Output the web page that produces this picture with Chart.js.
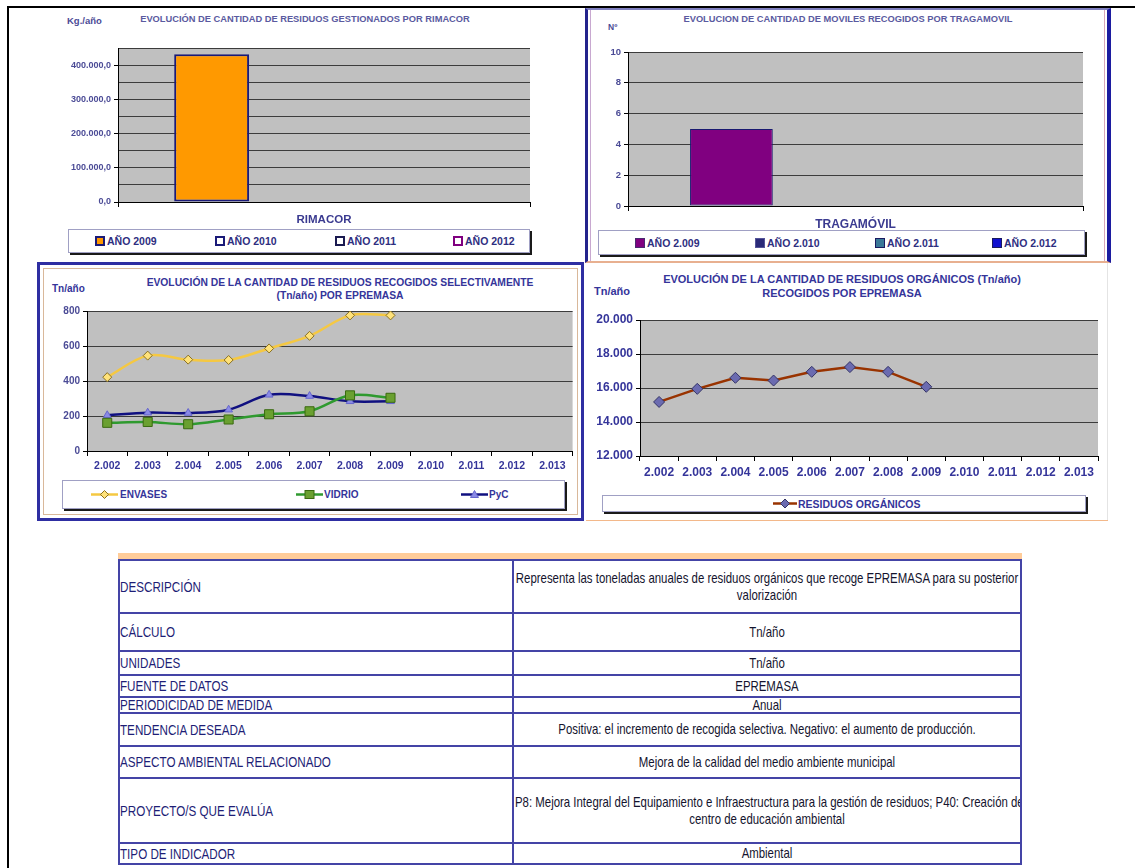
<!DOCTYPE html>
<html lang="es"><head><meta charset="utf-8"><title>Indicadores de residuos</title>
<script src="https://cdn.jsdelivr.net/npm/chart.js@4.4.1/dist/chart.umd.min.js"></script>
<style>
html,body{margin:0;padding:0;}
body{width:1135px;height:868px;position:relative;overflow:hidden;background:#fff;font-family:"Liberation Sans",Arial,Helvetica,sans-serif;}
.a{position:absolute;}
.t{position:absolute;font-weight:bold;white-space:nowrap;}
canvas{position:absolute;}
.leg{position:absolute;background:#fff;border:1px solid #a0a0c4;box-shadow:2px 2px 0 #1a1a1a;box-sizing:border-box;}
.li{position:absolute;top:0;height:100%;display:flex;align-items:center;font-weight:bold;white-space:nowrap;}
.sq{display:inline-block;width:10px;height:10px;box-sizing:border-box;border:2px solid #1a1a80;margin-right:2px;}
.cell{position:absolute;box-sizing:border-box;border:2px solid #4444a6;display:flex;align-items:center;overflow:hidden;font-size:14.5px;}
.lc{color:#1e1e76;}
.lc span{display:inline-block;white-space:nowrap;transform-origin:left center;margin-left:0px;}
.rc{color:#14142e;}
.lines{width:100%;}
.ln{position:relative;height:17px;}
.ln span{position:absolute;top:0;white-space:nowrap;line-height:17px;}
.ln span.c{left:50%;}
.ln span.l{left:1px;transform-origin:left center;}
</style></head><body>

<!-- page frame -->
<div class="a" style="left:7px;top:6px;width:1128px;height:2px;background:#000"></div>
<div class="a" style="left:7px;top:6px;width:2px;height:862px;background:#000"></div>

<!-- chart 2 frame -->
<div class="a" style="left:585px;top:8px;width:526px;height:255px;box-sizing:border-box;border-left:3px solid #23238c;border-right:4px solid #1c1ca0;border-top:2px solid #8080c0;border-bottom:2px solid #e8b090;box-shadow:inset 2px 0 0 #fff, inset 3px 0 0 #c8a8d0, inset -2px 0 0 #fff, inset -3px 0 0 #d8a8b8;"></div>
<!-- chart 3 frame -->
<div class="a" style="left:37px;top:262px;width:547px;height:259px;box-sizing:border-box;border:3px solid #2e2ea2;box-shadow:inset 0 0 0 3px #fff, inset 0 0 0 4px #d9b89a;"></div>
<!-- chart 4 edges -->
<div class="a" style="left:586px;top:520px;width:522px;height:1px;background:#f3b88a"></div>
<div class="a" style="left:1107px;top:263px;width:1px;height:257px;background:#e4e4e4"></div>

<!-- chart 1 texts -->
<div class="t" style="left:67px;top:15px;font-size:9.5px;color:#4b4b96">Kg./año</div>
<div class="t" style="left:105px;top:14px;width:400px;text-align:center;font-size:9.3px;color:#5a5aa0">EVOLUCIÓN DE CANTIDAD DE RESIDUOS GESTIONADOS POR RIMACOR</div>
<div class="leg" style="left:68px;top:229px;width:462px;height:24px;">
  <div class="li" style="left:26px;font-size:10.5px;color:#2e2e80"><span class="sq" style="background:#FF9900;border-color:#1a1a78"></span>AÑO 2009</div>
  <div class="li" style="left:146px;font-size:10.5px;color:#2e2e80"><span class="sq" style="background:#fff;border-color:#1a1a78"></span>AÑO 2010</div>
  <div class="li" style="left:266px;font-size:10.5px;color:#2e2e80"><span class="sq" style="background:#fff;border-color:#1a1a50"></span>AÑO 2011</div>
  <div class="li" style="left:384px;font-size:10.5px;color:#2e2e80"><span class="sq" style="background:#fff;border-color:#800080"></span>AÑO 2012</div>
</div>

<!-- chart 2 texts -->
<div class="t" style="left:608px;top:22px;font-size:8.5px;color:#4b4b96">Nº</div>
<div class="t" style="left:648px;top:14px;width:400px;text-align:center;font-size:9.3px;color:#5a5aa0">EVOLUCION DE CANTIDAD DE MOVILES RECOGIDOS POR TRAGAMOVIL</div>
<div class="leg" style="left:598px;top:230px;width:487px;height:25px;">
  <div class="li" style="left:36px;font-size:10.5px;color:#2e2e80"><span class="sq" style="background:#800080;border-color:#4a2a70;border-width:1px"></span>AÑO 2.009</div>
  <div class="li" style="left:156px;font-size:10.5px;color:#2e2e80"><span class="sq" style="background:#2a2a78;border-color:#555599;border-width:1px"></span>AÑO 2.010</div>
  <div class="li" style="left:276px;font-size:10.5px;color:#2e2e80"><span class="sq" style="background:#3a7898;border-color:#1a1a60;border-width:1px"></span>AÑO 2.011</div>
  <div class="li" style="left:393px;font-size:10.5px;color:#2e2e80"><span class="sq" style="background:#1010d0;border-color:#1a1a60;border-width:1px"></span>AÑO 2.012</div>
</div>

<!-- chart 3 texts -->
<div class="t" style="left:52px;top:283px;font-size:10px;color:#35359a">Tn/año</div>
<div class="t" style="left:90px;top:276px;width:500px;text-align:center;font-size:10.3px;line-height:13px;color:#35359a">EVOLUCIÓN DE LA CANTIDAD DE RESIDUOS RECOGIDOS SELECTIVAMENTE<br>(Tn/año) POR EPREMASA</div>
<div class="leg" style="left:62px;top:480px;width:503px;height:29px;">
  <div class="li" style="left:28px;font-size:10px;color:#35359a"><svg width="27" height="11" style="margin-right:2px"><line x1="0" y1="5.5" x2="27" y2="5.5" stroke="#F5C842" stroke-width="2.5"/><polygon points="13.5,1.5 17.5,5.5 13.5,9.5 9.5,5.5" fill="#FFE27A" stroke="#8a7020" stroke-width="1"/></svg>ENVASES</div>
  <div class="li" style="left:233px;font-size:10px;color:#35359a"><svg width="27" height="11" style="margin-right:1px"><line x1="0" y1="5.5" x2="27" y2="5.5" stroke="#2f9a2f" stroke-width="2.5"/><rect x="9" y="1.5" width="9" height="8" fill="#6aa030" stroke="#3a6a10" stroke-width="1"/></svg>VIDRIO</div>
  <div class="li" style="left:398px;font-size:10px;color:#35359a"><svg width="27" height="11" style="margin-right:1px"><line x1="0" y1="5.5" x2="27" y2="5.5" stroke="#101080" stroke-width="2.5"/><polygon points="13.5,1.5 17.5,8.5 9.5,8.5" fill="#8a8ae6" stroke="#6666cc" stroke-width="1"/></svg>PyC</div>
</div>

<!-- chart 4 texts -->
<div class="t" style="left:594px;top:285px;font-size:11px;color:#35359a">Tn/año</div>
<div class="t" style="left:622px;top:272px;width:440px;text-align:center;font-size:11px;line-height:14px;color:#35359a">EVOLUCIÓN DE LA CANTIDAD DE RESIDUOS ORGÁNICOS (Tn/año)<br>RECOGIDOS POR EPREMASA</div>
<div class="leg" style="left:602px;top:495px;width:484px;height:17px;">
  <div class="li" style="left:170px;font-size:10.5px;color:#35359a"><svg width="24" height="11" style="margin-right:1px"><line x1="0" y1="5.5" x2="24" y2="5.5" stroke="#993300" stroke-width="2.5"/><polygon points="12,1 16.5,5.5 12,10 7.5,5.5" fill="#6b6bb0" stroke="#333366" stroke-width="1"/></svg>RESIDUOS ORGÁNICOS</div>
</div>

<canvas id="c1" width="510" height="192" style="left:40px;top:40px"></canvas>
<canvas id="c2" width="500" height="192" style="left:596px;top:40px"></canvas>
<canvas id="c3" width="538" height="176" style="left:42px;top:300px"></canvas>
<canvas id="c4" width="515" height="176" style="left:590px;top:308px"></canvas>

<!-- table -->
<div class="a" style="left:118px;top:553px;width:904px;height:7px;background:#FFCC99"></div>
<div id="tbl"></div>

<script>
// ---------- DATA ----------
const rimacorCategories = ['RIMACOR'];
const rimacorSeries = ['AÑO 2009', 'AÑO 2010', 'AÑO 2011', 'AÑO 2012'];
const rimacorValues = [433000, null, null, null];

const tragamovilCategories = ['TRAGAMÓVIL'];
const tragamovilSeries = ['AÑO 2.009', 'AÑO 2.010', 'AÑO 2.011', 'AÑO 2.012'];
const tragamovilValues = [5, null, null, null];

const years = ['2.002','2.003','2.004','2.005','2.006','2.007','2.008','2.009','2.010','2.011','2.012','2.013'];
const envases   = [422, 545, 522, 520, 586, 658, 775, 775, null, null, null, null];
const vidrio    = [161, 166, 153, 180, 210, 227, 318, 304, null, null, null, null];
const pyc       = [204, 219, 217, 236, 321, 314, 284, 284, null, null, null, null];
const organicos = [15180, 15950, 16600, 16440, 16950, 17230, 16950, 16070, null, null, null, null];

const tableLabels = ['DESCRIPCIÓN','CÁLCULO','UNIDADES','FUENTE DE DATOS','PERIODICIDAD DE MEDIDA','TENDENCIA DESEADA','ASPECTO AMBIENTAL RELACIONADO','PROYECTO/S QUE EVALÚA','TIPO DE INDICADOR'];
const tableValues = [
  ['Representa las toneladas anuales de residuos orgánicos que recoge EPREMASA para su posterior','valorización'],
  ['Tn/año'],['Tn/año'],['EPREMASA'],['Anual'],
  ['Positiva: el incremento de recogida selectiva. Negativo: el aumento de producción.'],
  ['Mejora de la calidad del medio ambiente municipal'],
  ['P8: Mejora Integral del Equipamiento e Infraestructura para la gestión de residuos; P40: Creación de un','centro de educación ambiental'],
  ['Ambiental']
];

// ---------- TABLE ----------
(function(){
  const lines = [560, 613, 651, 675, 697, 713, 746, 778, 843, 864];
  const mc = document.createElement('canvas').getContext('2d');
  mc.font = '14.5px "Liberation Sans", Arial, sans-serif';
  // condensed look (Arial Narrow style): scale to the widths measured on the reference
  const kR = 503 / mc.measureText(tableValues[0][0]).width;
  const kL = 212 / mc.measureText(tableLabels[6]).width;
  const tbl = document.getElementById('tbl');
  let html = '';
  tableLabels.forEach((lab, i) => {
    const top = lines[i] - 1, h = lines[i+1] - lines[i] + 2;
    html += `<div class="cell lc" style="left:118px;top:${top}px;width:396px;height:${h}px"><span style="transform:scaleX(${kL})">${lab}</span></div>`;
    const vals = tableValues[i].map(s => {
      const w = mc.measureText(s).width * kR;
      if (w > 505) return `<div class="ln"><span class="l" style="transform:scaleX(${kR})">${s}</span></div>`;
      return `<div class="ln"><span class="c" style="transform:translateX(-50%) scaleX(${kR})">${s}</span></div>`;
    }).join('');
    html += `<div class="cell rc" style="left:512px;top:${top}px;width:510px;height:${h}px"><div class="lines">${vals}</div></div>`;
  });
  tbl.innerHTML = html;
})();

// ---------- CHARTS ----------
Chart.defaults.font.family = '"Liberation Sans", Arial, sans-serif';
Chart.defaults.animation = false;
Chart.defaults.responsive = false;
Chart.defaults.devicePixelRatio = 1;
Chart.defaults.plugins.legend.display = false;
Chart.defaults.plugins.tooltip.enabled = false;

const plotBg = {
  id: 'plotBg',
  beforeDraw(c) {
    const {ctx, chartArea: {left, top, width, height}} = c;
    ctx.save(); ctx.fillStyle = '#c0c0c0'; ctx.fillRect(left, top, width, height); ctx.restore();
  }
};
const thousands = v => String(Math.round(v)).replace(/\B(?=(\d{3})+(?!\d))/g, '.');

function yScale(o) {
  return {
    min: o.min, max: o.max,
    ticks: {stepSize: o.step, callback: o.cb, font: {size: o.fs, weight: 'bold'}, color: o.color, padding: 3, autoSkip: false},
    grid: {color: '#3c3c3c', lineWidth: 1, drawTicks: true, tickLength: 4, tickColor: o.tickColor || '#000'},
    border: {display: true, color: '#000', width: 1},
    afterFit(s) { s.width = o.width; }
  };
}
function xScale(o) {
  return {
    offset: true,
    ticks: {font: {size: o.fs, weight: 'bold'}, color: o.color, padding: o.pad, autoSkip: false, maxRotation: 0},
    grid: {offset: true, drawOnChartArea: false, drawTicks: true, tickLength: 5, tickColor: '#000', color: '#000'},
    border: {display: true, color: '#000', width: 1},
    afterFit(s) { s.height = o.height; }
  };
}

// Chart 1: RIMACOR
const c1Fill = ['#FF9900', '#ffffff', '#ffffff', '#ffffff'];
new Chart(document.getElementById('c1'), {
  type: 'bar',
  data: {
    labels: rimacorCategories,
    datasets: rimacorSeries.map((s, i) => ({
      label: s, data: [rimacorValues[i]], backgroundColor: c1Fill[i], borderColor: '#1a1a78',
      borderWidth: 2, borderSkipped: false, categoryPercentage: 4 / 5.5, barPercentage: 1
    }))
  },
  options: {
    layout: {padding: {left: 0, top: 7, right: 20, bottom: 0}},
    scales: {
      x: xScale({fs: 11.5, color: '#3a3a90', pad: 6, height: 30}),
      y: yScale({min: 0, max: 450000, step: 50000, fs: 9, color: '#4b4b96', width: 78,
        cb: v => (v % 100000 === 0 ? thousands(v) + ',0' : ''),
        tickColor: ctx => (ctx.tick && ctx.tick.value % 100000 === 0 ? '#000' : 'rgba(0,0,0,0)')})
    }
  },
  plugins: [plotBg]
});

// Chart 2: TRAGAMÓVIL
const c2Fill = ['#800080', '#2a2a78', '#3a7898', '#1010d0'];
new Chart(document.getElementById('c2'), {
  type: 'bar',
  data: {
    labels: tragamovilCategories,
    datasets: tragamovilSeries.map((s, i) => ({
      label: s, data: [tragamovilValues[i]], backgroundColor: c2Fill[i], borderColor: '#1a1a70',
      borderWidth: 1, borderSkipped: false, categoryPercentage: 4 / 5.5, barPercentage: 1
    }))
  },
  options: {
    layout: {padding: {left: 0, top: 12, right: 13, bottom: 0}},
    scales: {
      x: xScale({fs: 12, color: '#3a3a90', pad: 6, height: 26}),
      y: yScale({min: 0, max: 10, step: 2, fs: 9.5, color: '#4b4b96', width: 32, cb: v => String(v)})
    }
  },
  plugins: [plotBg]
});

// Chart 3: recogida selectiva
new Chart(document.getElementById('c3'), {
  type: 'line',
  data: {
    labels: years,
    datasets: [
      {label: 'ENVASES', data: envases, borderColor: '#F5C842', borderWidth: 2.5, tension: 0.35,
        pointStyle: 'rectRot', pointRadius: 4.5, pointBackgroundColor: '#FFE27A', pointBorderColor: '#8a7020', pointBorderWidth: 1},
      {label: 'VIDRIO', data: vidrio, borderColor: '#2f9a2f', borderWidth: 2.5, tension: 0.35,
        pointStyle: 'rect', pointRadius: 6.4, pointBackgroundColor: '#6aa030', pointBorderColor: '#3a6a10', pointBorderWidth: 1},
      {label: 'PyC', data: pyc, borderColor: '#101080', borderWidth: 2.5, tension: 0.35,
        pointStyle: 'triangle', pointRadius: 4.5, pointBackgroundColor: '#8a8ae6', pointBorderColor: '#6666cc', pointBorderWidth: 1}
    ]
  },
  options: {
    layout: {padding: {left: 0, top: 11, right: 7, bottom: 0}},
    scales: {
      x: xScale({fs: 10.5, color: '#35359a', pad: 4, height: 25}),
      y: yScale({min: 0, max: 800, step: 200, fs: 10, color: '#4b4b96', width: 45, cb: v => String(v)})
    }
  },
  plugins: [plotBg]
});

// Chart 4: residuos orgánicos
new Chart(document.getElementById('c4'), {
  type: 'line',
  data: {
    labels: years,
    datasets: [
      {label: 'RESIDUOS ORGÁNICOS', data: organicos, borderColor: '#993300', borderWidth: 2.5, tension: 0,
        pointStyle: 'rectRot', pointRadius: 5.5, pointBackgroundColor: '#6b6bb0', pointBorderColor: '#333366', pointBorderWidth: 1}
    ]
  },
  options: {
    layout: {padding: {left: 0, top: 12, right: 7, bottom: 0}},
    scales: {
      x: xScale({fs: 12, color: '#35359a', pad: 4, height: 28}),
      y: yScale({min: 12000, max: 20000, step: 2000, fs: 12, color: '#35359a', width: 50, cb: v => thousands(v)})
    }
  },
  plugins: [plotBg]
});
</script>
</body></html>
